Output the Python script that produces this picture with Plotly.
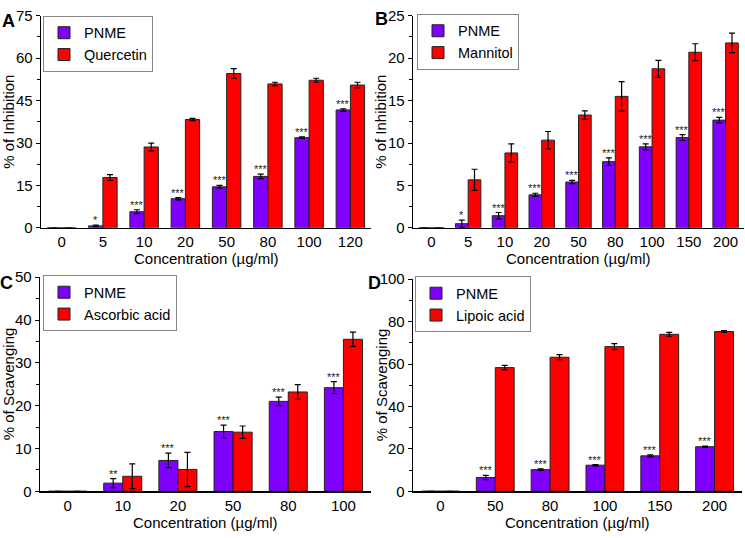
import plotly.graph_objects as go

# ---------------- data ----------------
# Panel A
a_conc = ["0", "5", "10", "20", "50", "80", "100", "120"]
a_pnme = [0, 0.7, 5.7, 10.3, 14.5, 18.2, 31.9, 41.7]
a_pnme_err = [0, 0.3, 0.7, 0.4, 0.5, 0.8, 0.3, 0.4]
a_ref = [0, 17.8, 28.6, 38.3, 54.6, 50.9, 52.2, 50.5]
a_ref_err = [0, 1.0, 1.4, 0.4, 1.7, 0.6, 0.7, 1.0]
a_stars = ["", "*", "***", "***", "***", "***", "***", "***"]
a_ref_name = "Quercetin"

# Panel B
b_conc = ["0", "5", "10", "20", "50", "80", "100", "150", "200"]
b_pnme = [0, 0.49, 1.43, 3.89, 5.4, 7.8, 9.55, 10.64, 12.7]
b_pnme_err = [0, 0.43, 0.38, 0.19, 0.19, 0.45, 0.36, 0.34, 0.32]
b_ref = [0, 5.66, 8.83, 10.34, 13.3, 15.5, 18.75, 20.7, 21.8]
b_ref_err = [0, 1.25, 1.08, 1.02, 0.5, 1.74, 1.0, 1.0, 1.15]
b_stars = ["", "*", "***", "***", "***", "***", "***", "***", "***"]
b_ref_name = "Mannitol"

# Panel C
c_conc = ["0", "10", "20", "50", "80", "100"]
c_pnme = [0, 1.9, 7.2, 13.95, 21.0, 24.2]
c_pnme_err = [0, 1.05, 1.7, 1.5, 1.0, 1.4]
c_ref = [0, 3.5, 5.1, 13.8, 23.2, 35.5]
c_ref_err = [0, 2.9, 4.0, 1.45, 1.7, 1.66]
c_stars = ["", "**", "***", "***", "***", "***"]
c_ref_name = "Ascorbic acid"

# Panel D
d_conc = ["0", "50", "80", "100", "150", "200"]
d_pnme = [0, 6.5, 10.2, 12.3, 16.7, 21.0]
d_pnme_err = [0, 1.0, 0.4, 0.3, 0.5, 0.3]
d_ref = [0, 58.3, 63.2, 68.2, 74.0, 75.3]
d_ref_err = [0, 1.1, 1.2, 1.4, 0.9, 0.4]
d_stars = ["", "***", "***", "***", "***", "***"]
d_ref_name = "Lipoic acid"

y_titles = ["% of Inhibition", "% of Inhibition", "% of Scavenging", "% of Scavenging"]
x_title = "Concentration (µg/ml)"
panel_letters = ["A", "B", "C", "D"]
y_ranges = [[0, 75], [0, 25], [0, 50], [0, 100]]
y_dticks = [15, 5, 10, 20]

# ---------------- style ----------------
W, H = 745, 538
FONT = "Arial, 'Liberation Sans', sans-serif"
PURPLE = "#7F00FF"
RED = "#FF0000"
BARGAP = 0.31

# plot-area pixel boxes: (left, right, top, bottom)
boxes = [(41, 371, 7, 226), (413, 744, 7, 226), (40, 371, 277, 498), (413, 742, 279, 498)]
legend_pos = [(43, 7), (417, 5), (43, 275), (415, 276)]
letter_pos = [(8, 12), (381, 10), (7, 283), (374, 283)]

panels = [
    (a_conc, a_pnme, a_pnme_err, a_ref, a_ref_err, a_stars, a_ref_name),
    (b_conc, b_pnme, b_pnme_err, b_ref, b_ref_err, b_stars, b_ref_name),
    (c_conc, c_pnme, c_pnme_err, c_ref, c_ref_err, c_stars, c_ref_name),
    (d_conc, d_pnme, d_pnme_err, d_ref, d_ref_err, d_stars, d_ref_name),
]

fig = go.Figure()
annotations = []
layout = {}

for i, (conc, pv, pe, rv, re, stars, rname) in enumerate(panels):
    k = i + 1
    sfx = "" if k == 1 else str(k)
    xa, ya = "x" + sfx, "y" + sfx
    leg = "legend" + sfx
    err_style = dict(type="data", visible=True, color="black", thickness=1.2, width=3)
    fig.add_trace(go.Bar(
        x=conc, y=pv, name="PNME", xaxis=xa, yaxis=ya, legend=leg,
        marker=dict(color=PURPLE, line=dict(color="#222222", width=1)),
        error_y=dict(array=pe, **err_style),
    ))
    fig.add_trace(go.Bar(
        x=conc, y=rv, name=rname, xaxis=xa, yaxis=ya, legend=leg,
        marker=dict(color=RED, line=dict(color="#222222", width=1)),
        error_y=dict(array=re, **err_style),
    ))

    l, r, t, b = boxes[i]
    xd = [l / W, r / W]
    yd = [1 - b / H, 1 - t / H]
    layout["xaxis" + sfx] = dict(
        domain=xd, anchor=ya, type="category", showline=True, linecolor="black",
        linewidth=1.3, ticks="", showgrid=False, zeroline=False,
        tickfont=dict(size=15, color="black", family=FONT), fixedrange=True,
    )
    dt = y_dticks[i]
    layout["yaxis" + sfx] = dict(
        domain=yd, anchor=xa, range=y_ranges[i], dtick=dt, tick0=0,
        showline=True, linecolor="black", linewidth=1.3, ticks="outside",
        ticklen=4, tickwidth=1, tickcolor="black", showgrid=False, zeroline=False,
        minor=dict(dtick=dt / 2, ticks="outside", ticklen=3, tickcolor="black", tickwidth=1),
        tickfont=dict(size=15, color="black", family=FONT), fixedrange=True,
    )
    lx, lt = legend_pos[i]
    layout[leg] = dict(
        x=lx / W, y=1 - lt / H, xanchor="left", yanchor="top",
        bgcolor="white", bordercolor="#888888", borderwidth=1,
        font=dict(size=14.5, color="black", family=FONT),
        tracegroupgap=0, itemwidth=30,
    )

    # significance stars above PNME bars
    off = (1 - BARGAP) / 4
    for j, s in enumerate(stars):
        if s:
            annotations.append(dict(
                x=j - off, y=pv[j] + pe[j], xref=xa, yref=ya, text=s,
                showarrow=False, yanchor="bottom", yshift=-3,
                font=dict(size=11, color="#222222", family=FONT),
            ))

    # axis titles
    annotations.append(dict(
        x=(l + r) / 2 / W, y=1 - (b + 32) / H, xref="paper", yref="paper",
        text=x_title, showarrow=False, xanchor="center", yanchor="middle",
        font=dict(size=15, color="black", family=FONT),
    ))
    annotations.append(dict(
        x=(l - 32) / W, y=1 - (t + b) / 2 / H, xref="paper", yref="paper",
        text=y_titles[i], showarrow=False, textangle=-90,
        xanchor="center", yanchor="middle",
        font=dict(size=15, color="black", family=FONT),
    ))
    px, py = letter_pos[i]
    annotations.append(dict(
        x=px / W, y=1 - py / H, xref="paper", yref="paper",
        text="<b>" + panel_letters[i] + "</b>", showarrow=False,
        xanchor="center", yanchor="middle",
        font=dict(size=18, color="black", family=FONT),
    ))

fig.update_layout(
    width=W, height=H, margin=dict(l=0, r=0, t=0, b=0),
    paper_bgcolor="white", plot_bgcolor="white",
    barmode="group", bargap=BARGAP, bargroupgap=0,
    annotations=annotations, font=dict(family=FONT, color="black"),
    **layout,
)

fig.write_html(
    "out.html",
    config={"displayModeBar": False, "staticPlot": True},
    post_script="document.body.style.margin='0';document.body.style.overflow='hidden';",
)
